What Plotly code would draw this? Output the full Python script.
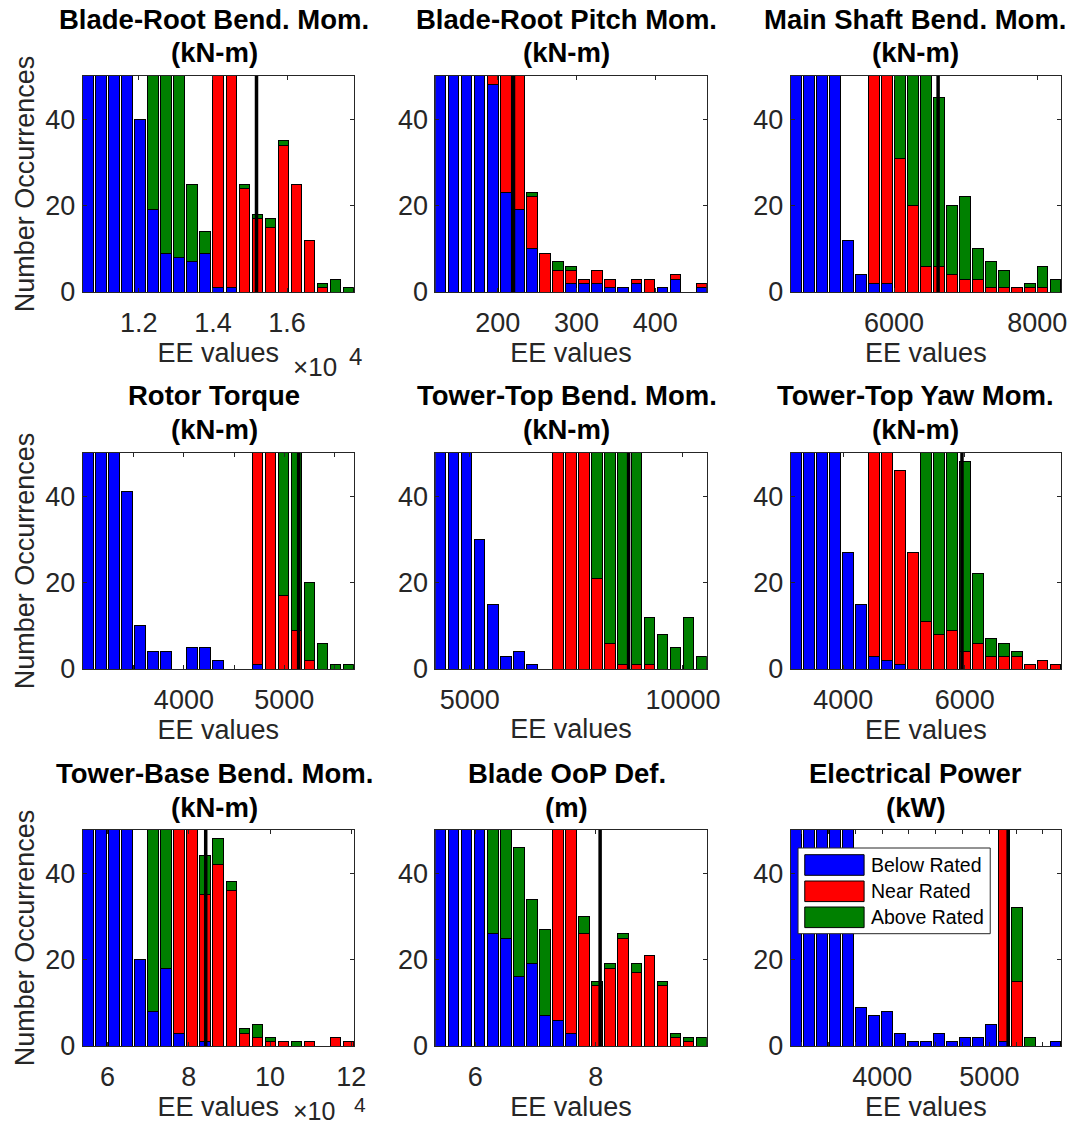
import numpy as np
import plotly.graph_objects as go
from plotly.subplots import make_subplots

# The photographed area is slightly larger than the nominal window, so the
# figure is sized to that area; positions below are given in picture pixels
# of the 1071 x 1127 photograph and converted to paper fractions.
PW, PH = 1071, 1127
FIG_W, FIG_H = 1086, 1142
FONT = "Liberation Sans, Arial, sans-serif"
TXT = "#262626"

title_main = [
    "Blade-Root Bend. Mom.",
    "Blade-Root Pitch Mom.",
    "Main Shaft Bend. Mom.",
    "Rotor Torque",
    "Tower-Top Bend. Mom.",
    "Tower-Top Yaw Mom.",
    "Tower-Base Bend. Mom.",
    "Blade OoP Def.",
    "Electrical Power",
]
title_unit = ["(kN-m)", "(kN-m)", "(kN-m)", "(kN-m)", "(kN-m)", "(kN-m)", "(kN-m)", "(m)", "(kW)"]

# histogram bins: first bin centre and bin width (EE value units)
bin_first = [10622, 127.4, 4630, 3042, 4318, 3220, 55122, 5.4255, 3195.5]
bin_width = [352, 16.57, 181.4, 130, 305.8, 214, 3212, 0.2163, 121.2]

# counts per bin (21 bins) for each operating region
below = [
    [110, 95, 80, 62, 40, 19, 9, 8, 7, 9, 1, 1, 0, 0, 0, 0, 0, 0, 0, 0, 0],
    [150, 120, 95, 70, 48, 23, 19, 10, 0, 0, 2, 2, 2, 1, 1, 2, 0, 1, 3, 0, 1],
    [95, 85, 70, 58, 12, 4, 2, 2, 0, 0, 0, 0, 0, 0, 0, 0, 0, 0, 0, 0, 0],
    [90, 75, 60, 41, 10, 4, 4, 0, 5, 5, 2, 0, 0, 1, 0, 0, 0, 0, 0, 0, 0],
    [120, 100, 75, 30, 15, 3, 4, 1, 0, 0, 0, 0, 0, 0, 0, 0, 0, 0, 0, 0, 0],
    [85, 75, 70, 55, 27, 15, 3, 2, 1, 0, 0, 0, 0, 0, 0, 0, 0, 0, 0, 0, 0],
    [100, 90, 80, 65, 20, 8, 18, 3, 0, 1, 0, 0, 0, 0, 0, 0, 0, 0, 0, 0, 0],
    [110, 95, 80, 62, 26, 25, 16, 19, 7, 6, 3, 0, 0, 0, 0, 0, 0, 0, 0, 0, 0],
    [300, 200, 150, 100, 70, 9, 7, 8, 3, 1, 1, 3, 1, 2, 2, 5, 1, 0, 0, 0, 1],
]
near = [
    [0, 0, 0, 0, 0, 0, 0, 0, 0, 0, 70, 58, 24, 17, 15, 34, 25, 12, 1, 0, 0],
    [0, 0, 0, 0, 6, 38, 42, 12, 9, 5, 3, 1, 3, 2, 0, 1, 3, 0, 1, 0, 1],
    [0, 0, 0, 0, 0, 0, 65, 72, 31, 20, 6, 6, 4, 3, 3, 1, 1, 1, 1, 1, 0],
    [0, 0, 0, 0, 0, 0, 0, 0, 0, 0, 0, 0, 0, 70, 80, 17, 9, 2, 0, 0, 0],
    [0, 0, 0, 0, 0, 0, 0, 0, 0, 60, 75, 65, 21, 6, 1, 1, 1, 0, 0, 0, 0],
    [0, 0, 0, 0, 0, 0, 65, 58, 45, 27, 11, 8, 9, 4, 6, 3, 3, 3, 1, 2, 1],
    [0, 0, 0, 0, 0, 0, 0, 60, 70, 34, 42, 36, 3, 2, 1, 1, 0, 1, 0, 2, 1],
    [0, 0, 0, 0, 0, 0, 0, 0, 0, 60, 70, 26, 14, 18, 25, 17, 21, 14, 2, 1, 0],
    [0, 0, 0, 0, 0, 0, 0, 0, 0, 0, 0, 0, 0, 0, 0, 0, 90, 15, 0, 0, 0],
]
above = [
    [0, 0, 0, 0, 0, 45, 60, 52, 18, 5, 0, 0, 1, 1, 2, 1, 0, 0, 1, 3, 1],
    [0, 0, 0, 0, 0, 0, 0, 1, 0, 2, 1, 0, 0, 0, 0, 0, 0, 0, 0, 0, 0],
    [0, 0, 0, 0, 0, 0, 0, 0, 35, 45, 50, 39, 16, 19, 7, 6, 4, 0, 1, 5, 3],
    [0, 0, 0, 0, 0, 0, 0, 0, 0, 0, 0, 0, 0, 0, 0, 55, 60, 18, 6, 1, 1],
    [0, 0, 0, 0, 0, 0, 0, 0, 0, 0, 0, 0, 40, 55, 62, 58, 11, 8, 5, 12, 3],
    [0, 0, 0, 0, 0, 0, 0, 0, 0, 0, 50, 55, 48, 44, 16, 4, 3, 1, 0, 0, 0],
    [0, 0, 0, 0, 0, 55, 40, 0, 0, 9, 6, 2, 1, 3, 1, 0, 1, 0, 0, 0, 0],
    [0, 0, 0, 0, 35, 40, 30, 15, 20, 0, 0, 4, 1, 1, 1, 2, 0, 1, 1, 1, 2],
    [0, 0, 0, 0, 0, 0, 0, 0, 0, 0, 0, 0, 0, 0, 0, 0, 0, 17, 2, 0, 0],
]

# reference (black) line per panel
ref_line = [15176, 220, 6615, 5144, 8726, 5955, 84166, 8.071, 5175]

tick_vals = [
    [12000, 14000, 16000],
    [200, 300, 400],
    [6000, 8000],
    [3500, 4000, 4500, 5000, 5500],
    [5000, 10000],
    [4000, 6000],
    [60000, 80000, 100000, 120000],
    [6, 8],
    [3250, 3500, 3750, 4000, 4250, 4500, 4750, 5000, 5250, 5500],
]
tick_text = [
    ["1.2", "1.4", "1.6"],
    ["200", "300", "400"],
    ["6000", "8000"],
    ["", "4000", "", "5000", ""],
    ["5000", "10000"],
    ["4000", "6000"],
    ["6", "8", "10", "12"],
    ["6", "8"],
    ["", "", "", "4000", "", "", "", "5000", "", ""],
]
y_ticks = [0, 20, 40]
y_max = 50

series_names = ["Below Rated", "Near Rated", "Above Rated"]
series_colors = ["rgb(0,0,255)", "rgb(255,0,0)", "rgb(0,128,0)"]

# layout in picture pixels
col_px = [(82.5, 353.5), (435.0, 706.0), (790.0, 1060.0)]
row_px = [(76.0, 292.0), (453.0, 669.0), (830.0, 1046.0)]
title_cx = [214.0, 566.0, 915.0]

TICK_SIZE = 27
TITLE_SIZE = 27.5


def fx(p):
    return p / PW


def fy(p):
    return 1 - p / PH


fig = make_subplots(rows=3, cols=3)

for i in range(9):
    r, c = divmod(i, 3)
    n = len(below[i])
    centers = bin_first[i] + bin_width[i] * np.arange(n)
    for vals, name, color in zip([below[i], near[i], above[i]], series_names, series_colors):
        fig.add_trace(
            go.Bar(
                x=centers, y=vals, name=name, showlegend=False,
                marker=dict(color=color, line=dict(color="black", width=1)),
            ),
            row=r + 1, col=c + 1,
        )
    w = bin_width[i]
    xr = [centers[0] - 0.4 * w, centers[-1] + 0.4 * w]
    sfx = "" if i == 0 else str(i + 1)
    x0, x1 = col_px[c]
    y0, y1 = row_px[r]
    fig.layout["xaxis" + sfx].update(
        domain=[fx(x0), fx(x1)], range=xr,
        tickvals=tick_vals[i], ticktext=tick_text[i],
        ticks="inside", ticklen=4, tickcolor=TXT, mirror="ticks",
        showline=True, linecolor=TXT, linewidth=1,
        showgrid=False, zeroline=False,
        tickfont=dict(size=TICK_SIZE, color=TXT, family=FONT),
        ticklabelstandoff=7,
        title=dict(text="EE values", font=dict(size=TICK_SIZE, color=TXT, family=FONT), standoff=4),
    )
    fig.layout["yaxis" + sfx].update(
        domain=[fy(y1), fy(y0)], range=[0, y_max],
        tickvals=y_ticks,
        ticks="inside", ticklen=4, tickcolor=TXT, mirror="ticks",
        showline=True, linecolor=TXT, linewidth=1,
        showgrid=False, zeroline=False,
        tickfont=dict(size=TICK_SIZE, color=TXT, family=FONT),
        ticklabelstandoff=1,
    )
    if c == 0:
        fig.layout["yaxis" + sfx].title = dict(
            text="Number Occurrences", font=dict(size=TICK_SIZE, color=TXT, family=FONT), standoff=2)
    fig.add_shape(
        type="line", xref="x" + sfx, yref="y" + sfx + " domain",
        x0=ref_line[i], x1=ref_line[i], y0=0, y1=1,
        line=dict(color="black", width=3.5),
    )
    # two-line bold title
    for txt, dy in ((title_main[i], 57), (title_unit[i], 23)):
        fig.add_annotation(
            text="<b>" + txt + "</b>",
            xref="paper", yref="paper", x=fx(title_cx[c]), y=fy(y0 - dy),
            xanchor="center", yanchor="middle", showarrow=False,
            font=dict(size=TITLE_SIZE, color="black", family=FONT),
        )

# x10^4 exponent labels for panels 1 and 7 (x, y of "x10"; x, y of the "4")
expo_pos = [(291.0, 367.0, 347.0, 356.0, 26, 24), (291.0, 1111.0, 352.0, 1104.0, 25, 21)]
for (xb, yb, xe, ye, fb, fe) in expo_pos:
    fig.add_annotation(text="\u00d710", xref="paper", yref="paper",
                       x=fx(xb), y=fy(yb), xanchor="left", yanchor="middle",
                       showarrow=False, font=dict(size=fb, color=TXT, family=FONT))
    fig.add_annotation(text="4", xref="paper", yref="paper",
                       x=fx(xe), y=fy(ye), xanchor="left", yanchor="middle",
                       showarrow=False, font=dict(size=fe, color=TXT, family=FONT))

# legend box in the Electrical Power panel
lx0, lx1, ly0, ly1 = 797.3, 989.3, 848.0, 933.7
fig.add_shape(type="rect", xref="paper", yref="paper",
              x0=fx(lx0), x1=fx(lx1), y0=fy(ly1), y1=fy(ly0),
              line=dict(color=TXT, width=1), fillcolor="white", layer="above")
row_centres = [865.0, 891.3, 917.3]
for yc, name, color in zip(row_centres, series_names, series_colors):
    fig.add_shape(type="rect", xref="paper", yref="paper",
                  x0=fx(804), x1=fx(863.3), y0=fy(yc + 10.3), y1=fy(yc - 10.3),
                  line=dict(color="black", width=1), fillcolor=color, layer="above")
    fig.add_annotation(text=name, xref="paper", yref="paper",
                       x=fx(868), y=fy(yc), xanchor="left", yanchor="middle",
                       showarrow=False, font=dict(size=19.5, color="black", family=FONT))

fig.update_layout(
    width=FIG_W, height=FIG_H,
    margin=dict(l=0, r=0, t=0, b=0),
    barmode="stack", bargap=0.2,
    paper_bgcolor="white", plot_bgcolor="white",
    font=dict(family=FONT, color=TXT),
    showlegend=False,
)

fig.write_html(
    "out.html",
    config={"displayModeBar": False},
    post_script=(
        "document.documentElement.style.margin='0px';"
        "document.documentElement.style.overflow='hidden';"
        "document.body.style.margin='0px';"
        "document.body.style.overflow='hidden';"
    ),
)
